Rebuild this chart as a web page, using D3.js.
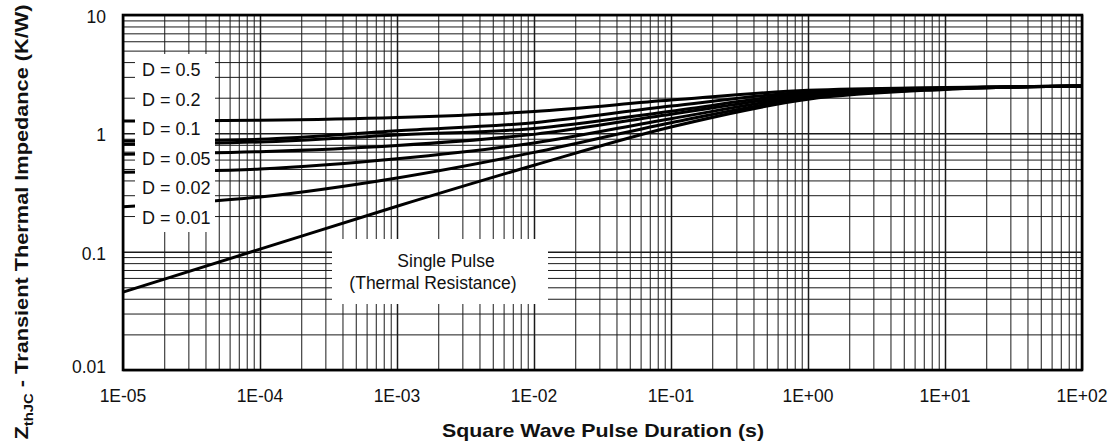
<!DOCTYPE html>
<html lang="en">
<head>
<meta charset="UTF-8">
<title>Transient Thermal Impedance</title>
<style>
  body { margin: 0; background: #fff; }
  svg { display: block; font-family: "Liberation Sans", Arial, Helvetica, sans-serif; }
  .grid line { stroke: #1a1a1a; stroke-width: 1; }
  .grid .domain { display: none; }
  .curve { fill: none; stroke: #000; stroke-width: 3; stroke-linejoin: round; }
  .tick-label { font-size: 17.5px; fill: #111; }
</style>
</head>
<body>
<svg width="1116" height="445"></svg>
<script src="https://d3js.org/d3.v7.min.js"></script>
<script>
var pulseDuration = [1e-5, 1e-4, 1e-3, 1e-2, 1e-1, 1, 10, 100];

// Zth (K/W) for each duty cycle
var zthD05  = [1.27, 1.29, 1.36, 1.53, 1.91, 2.31, 2.44, 2.51];
var zthD02  = [0.86, 0.89, 1.05, 1.23, 1.70, 2.24, 2.43, 2.51];
var zthD01  = [0.81, 0.845, 0.97, 1.10, 1.54, 2.18, 2.41, 2.51];
var zthD005 = [0.665, 0.70, 0.79, 0.98, 1.45, 2.11, 2.40, 2.51];
var zthD002 = [0.47, 0.50, 0.61, 0.83, 1.33, 2.05, 2.38, 2.51];
var zthD001 = [0.24, 0.29, 0.42, 0.69, 1.23, 1.99, 2.37, 2.51];
var zthSingle = [0.0455, 0.105, 0.242, 0.537, 1.13, 1.94, 2.35, 2.51];

var dutyLabels = ["D = 0.5", "D = 0.2", "D = 0.1", "D = 0.05", "D = 0.02", "D = 0.01"];

var xTickValues = [1e-5, 1e-4, 1e-3, 1e-2, 1e-1, 1, 10, 100];
var xTickLabels = ["1E-05", "1E-04", "1E-03", "1E-02", "1E-01", "1E+00", "1E+01", "1E+02"];
var yTickValues = [0.01, 0.1, 1, 10];
var yTickLabels = ["0.01", "0.1", "1", "10"];

var svg = d3.select("svg");
var plotL = 123, plotR = 1082, plotT = 15, plotB = 370;

var x = d3.scaleLog().domain([1e-5, 100]).range([plotL, plotR]);
var y = d3.scaleLog().domain([0.01, 10]).range([plotB, plotT]);

// grid values 1..9 per decade
var minorX = [];
for (var e = -5; e < 2; e++) for (var k = 1; k < 10; k++) minorX.push(k * Math.pow(10, e));
minorX.push(100);
var minorY = [];
for (var e2 = -2; e2 < 1; e2++) for (var k2 = 1; k2 < 10; k2++) minorY.push(k2 * Math.pow(10, e2));
minorY.push(10);

function isDecade(v) {
  var l = Math.log10(v);
  return Math.abs(l - Math.round(l)) < 1e-9;
}

var gx = svg.append("g").attr("class", "grid")
  .attr("transform", "translate(0," + plotB + ")")
  .call(d3.axisBottom(x).tickValues(minorX).tickSize(-(plotB - plotT)).tickFormat(""));
gx.selectAll(".tick line").style("stroke-width", function(d) { return isDecade(d) ? 1.5 : 1; });

var gy = svg.append("g").attr("class", "grid")
  .attr("transform", "translate(" + plotL + ",0)")
  .call(d3.axisLeft(y).tickValues(minorY).tickSize(-(plotR - plotL)).tickFormat(""));
gy.selectAll(".tick line").style("stroke-width", function(d) { return isDecade(d) ? 1.5 : 1; });

// curves
var series = [zthD05, zthD02, zthD01, zthD005, zthD002, zthD001, zthSingle];
var line = d3.line()
  .x(function(d) { return x(d[0]); })
  .y(function(d) { return y(d[1]); })
  .curve(d3.curveMonotoneX);

svg.append("g").selectAll("path")
  .data(series)
  .enter()
  .append("path")
  .attr("class", "curve")
  .attr("d", function(s) { return line(s.map(function(v, i) { return [pulseDuration[i], v]; })); });

// white label boxes over the grid
svg.append("rect").attr("x", 135).attr("y", 54).attr("width", 80).attr("height", 178).attr("fill", "#fff");
svg.append("rect").attr("x", 332).attr("y", 239).attr("width", 216).attr("height", 65).attr("fill", "#fff");

svg.append("g").selectAll("text")
  .data(dutyLabels)
  .enter()
  .append("text")
  .attr("x", 142)
  .attr("y", function(d, i) { return 76 + i * 29.6; })
  .attr("font-size", "18px")
  .attr("fill", "#111")
  .text(function(d) { return d; });

svg.append("text").attr("x", 446).attr("y", 267).attr("text-anchor", "middle")
  .attr("font-size", "17.5px").attr("fill", "#111").text("Single Pulse");
svg.append("text").attr("x", 433).attr("y", 289).attr("text-anchor", "middle")
  .attr("font-size", "17.5px").attr("fill", "#111").text("(Thermal Resistance)");

// plot frame
svg.append("rect")
  .attr("x", plotL).attr("y", plotT)
  .attr("width", plotR - plotL).attr("height", plotB - plotT)
  .attr("fill", "none").attr("stroke", "#000").attr("stroke-width", 2.6);

// tick labels
svg.append("g").selectAll("text")
  .data(xTickValues)
  .enter()
  .append("text")
  .attr("class", "tick-label")
  .attr("x", function(d) { return x(d); })
  .attr("y", 402)
  .attr("text-anchor", "middle")
  .text(function(d, i) { return xTickLabels[i]; });

svg.append("g").selectAll("text")
  .data(yTickValues)
  .enter()
  .append("text")
  .attr("class", "tick-label")
  .attr("x", 106)
  .attr("y", function(d) { return Math.min(y(d) + 8, 373); })
  .attr("text-anchor", "end")
  .text(function(d, i) { return yTickLabels[i]; });

// axis titles
svg.append("text")
  .attr("x", 603).attr("y", 437)
  .attr("text-anchor", "middle")
  .attr("font-size", "19px").attr("font-weight", "bold").attr("fill", "#111")
  .attr("textLength", 322).attr("lengthAdjust", "spacingAndGlyphs")
  .text("Square Wave Pulse Duration (s)");

var yt = svg.append("text")
  .attr("transform", "translate(28,222) rotate(-90)")
  .attr("text-anchor", "middle")
  .attr("font-size", "19px").attr("font-weight", "bold").attr("fill", "#111")
  .attr("textLength", 435).attr("lengthAdjust", "spacingAndGlyphs");
yt.append("tspan").text("Z");
yt.append("tspan").attr("font-size", "13px").attr("dy", 5).text("thJC");
yt.append("tspan").attr("dy", -5).text(" - Transient Thermal Impedance (K/W)");
</script>
</body>
</html>
